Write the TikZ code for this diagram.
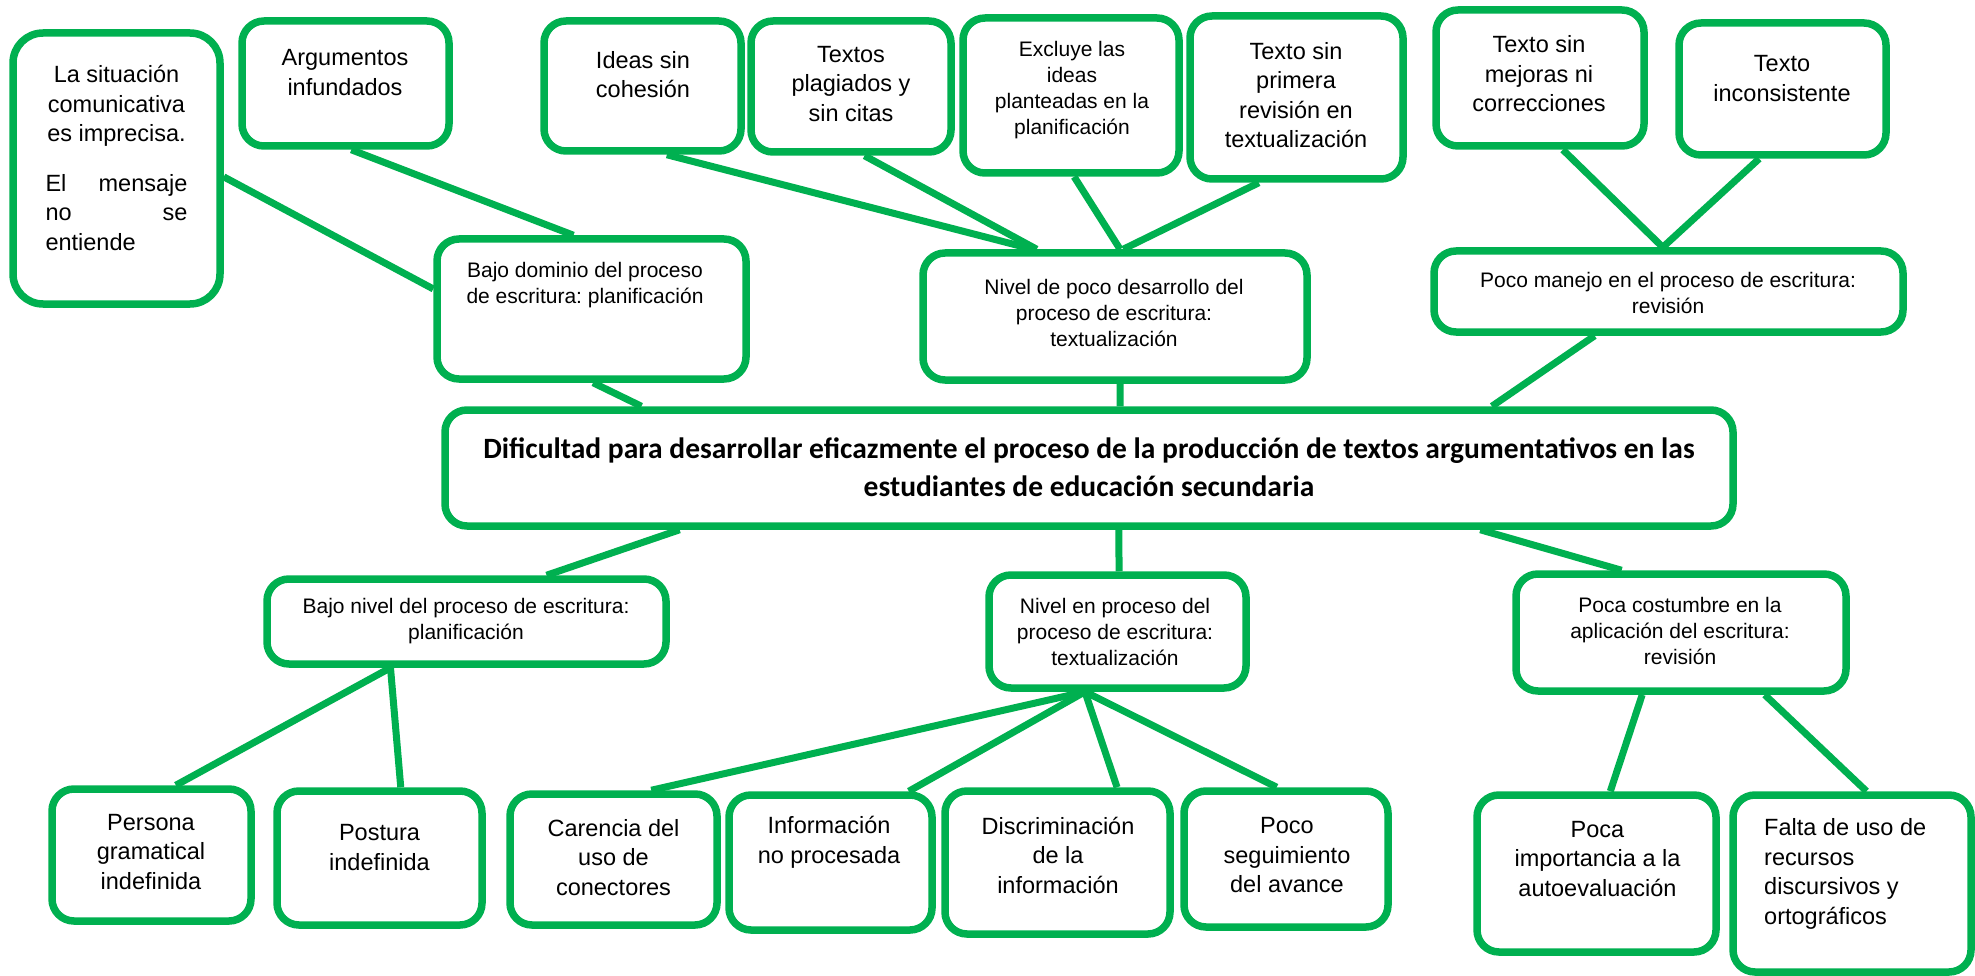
\documentclass[tikz,border=0pt]{standalone}
\usepackage{fontspec}
\setmainfont{Liberation Sans}
\newfontfamily\titlefont{Carlito}
\usetikzlibrary{calc}
\definecolor{bgreen}{HTML}{00B050}
\frenchspacing
\begin{document}
\begin{tikzpicture}[x=1pt,y=-1pt,
  box/.style={draw=bgreen, line width=7.5pt, rounded corners=22pt, fill=white, inner sep=0pt},
  big/.style={inner sep=0pt, align=center, font=\frenchspacing\fontsize{23.5}{29.5}\selectfont},
  med/.style={inner sep=0pt, align=center, font=\frenchspacing\fontsize{21}{26}\selectfont},
  link/.style={draw=bgreen, line width=7pt}]
\useasboundingbox (0,0) rectangle (1975,976);
\fill[white] (0,0) rectangle (1975,976);

% boxes
\node[box, rounded corners=30pt, minimum width=207pt, minimum height=271pt] (sit) at (116.5,168.5) {};
\node[box, minimum width=207pt, minimum height=125pt] (arg) at (345.5,83.5) {};
\node[box, minimum width=197pt, minimum height=130pt] (ide) at (642.5,86) {};
\node[box, minimum width=200pt, minimum height=131pt] (pla) at (851,86.5) {};
\node[box, minimum width=216pt, minimum height=155pt] (exc) at (1071,95.5) {};
\node[box, minimum width=213pt, minimum height=163pt] (pri) at (1296.5,97.5) {};
\node[box, minimum width=208pt, minimum height=136pt] (mej) at (1540,78) {};
\node[box, minimum width=207pt, minimum height=132pt] (inc) at (1782.5,89) {};
\node[box, minimum width=469pt, minimum height=81pt] (man) at (1668.5,291.5) {};
\node[box, minimum width=384pt, minimum height=127pt] (npd) at (1115,316.5) {};
\node[box, minimum width=309pt, minimum height=140pt] (bdo) at (591.5,309) {};
\node[box, minimum width=1288pt, minimum height=116pt] (main) at (1089,468) {};
\node[box, minimum width=399pt, minimum height=85pt] (bni) at (466.5,621.5) {};
\node[box, minimum width=257pt, minimum height=113pt] (nep) at (1117.5,631.5) {};
\node[box, minimum width=330pt, minimum height=117pt] (pco) at (1681,632.5) {};
\node[box, minimum width=199pt, minimum height=132pt] (per) at (151.5,855) {};
\node[box, minimum width=205pt, minimum height=134pt] (pos) at (379.5,858) {};
\node[box, minimum width=207pt, minimum height=131pt] (car) at (613.5,859.5) {};
\node[box, minimum width=203pt, minimum height=135pt] (inf) at (830.5,862.5) {};
\node[box, minimum width=225pt, minimum height=143pt] (dis) at (1057.5,862.5) {};
\node[box, minimum width=204pt, minimum height=136pt] (seg) at (1286,859) {};
\node[box, minimum width=239pt, minimum height=157pt] (aut) at (1596.5,873.5) {};
\node[box, minimum width=238pt, minimum height=177pt] (fal) at (1852,883.5) {};

% connectors
\draw[link] ($(sit.north east)!0.53!(sit.south east)$) -- ($(bdo.north west)!0.364!(bdo.south west)$);
\draw[link] ($(arg.south west)!0.527!(arg.south east)$) -- ($(bdo.north west)!0.443!(bdo.north east)$);
\draw[link] ($(bdo.south west)!0.505!(bdo.south east)$) -- ($(main.north west)!0.1545!(main.north east)$);
\draw[link] ($(ide.south west)!0.619!(ide.south east)$) -- ($(npd.north west)!0.29!(npd.north east)$);
\draw[link] ($(pla.south west)!0.565!(pla.south east)$) -- ($(npd.north west)!0.30!(npd.north east)$);
\draw[link] ($(exc.south west)!0.514!(exc.south east)$) -- ($(npd.north west)!0.513!(npd.north east)$);
\draw[link] ($(pri.south west)!0.329!(pri.south east)$) -- ($(npd.north west)!0.521!(npd.north east)$);
\draw[link] ($(npd.south west)!0.513!(npd.south east)$) -- ($(main.north west)!0.524!(main.north east)$);
\draw[link] ($(mej.south west)!0.606!(mej.south east)$) -- ($(man.north west)!0.488!(man.north east)$);
\draw[link] ($(inc.south west)!0.391!(inc.south east)$) -- ($(man.north west)!0.488!(man.north east)$);
\draw[link] ($(man.south west)!0.345!(man.south east)$) -- ($(main.north west)!0.811!(main.north east)$);
\draw[link] ($(main.south west)!0.184!(main.south east)$) -- ($(bni.north west)!0.697!(bni.north east)$);
\draw[link] ($(main.south west)!0.523!(main.south east)$) -- ($(nep.north west)!0.506!(nep.north east)$);
\draw[link] ($(main.south west)!0.802!(main.south east)$) -- ($(pco.north west)!0.324!(pco.north east)$);
\draw[link] ($(bni.south west)!0.313!(bni.south east)$) -- ($(per.north west)!0.618!(per.north east)$);
\draw[link] ($(bni.south west)!0.313!(bni.south east)$) -- ($(pos.north west)!0.6!(pos.north east)$);
\draw[link] ($(nep.south west)!0.377!(nep.south east)$) -- ($(car.north west)!0.676!(car.north east)$);
\draw[link] ($(nep.south west)!0.377!(nep.south east)$) -- ($(inf.north west)!0.872!(inf.north east)$);
\draw[link] ($(nep.south west)!0.377!(nep.south east)$) -- ($(dis.north west)!0.756!(dis.north east)$);
\draw[link] ($(nep.south west)!0.377!(nep.south east)$) -- ($(seg.north west)!0.456!(seg.north east)$);
\draw[link] ($(pco.south west)!0.385!(pco.south east)$) -- ($(aut.north west)!0.556!(aut.north east)$);
\draw[link] ($(pco.south west)!0.748!(pco.south east)$) -- ($(fal.north west)!0.559!(fal.north east)$);

% texts
\node[big] (sit-t) at (116.5,158) {La situación\\comunicativa\\es imprecisa.\\[20pt]\hbox to 142pt{El\hfill mensaje}\\\hbox to 142pt{no\hfill se}\\\hbox to 142pt{entiende\hfill}};
\node[big] (arg-t) at (345,72.5) {Argumentos\\infundados};
\node[big] (ide-t) at (643,74.5) {Ideas sin\\cohesión};
\node[big] (pla-t) at (851,84) {Textos\\plagiados y\\sin citas};
\node[med] (exc-t) at (1072,90) {Excluye las\\ideas\\planteadas en la\\planificación};
\node[big] (pri-t) at (1296,95) {Texto sin\\primera\\revisión en\\textualización};
\node[big] (mej-t) at (1539,74) {Texto sin\\mejoras ni\\correcciones};
\node[big] (inc-t) at (1782,78.5) {Texto\\inconsistente};
\node[med] (man-t) at (1668,293) {Poco manejo en el proceso de escritura:\\revisión};
\node[med] (npd-t) at (1114,312.7) {Nivel de poco desarrollo del\\proceso de escritura:\\textualización};
\node[med] (bdo-t) at (585,285.5) {Bajo dominio del proceso\\de escritura: planificación};
\node[inner sep=0pt, align=center, font=\frenchspacing\titlefont\bfseries\fontsize{29.5}{38}\selectfont] (main-t) at (1089,467) {Dificultad para desarrollar eficazmente el proceso de la producción de textos argumentativos en las\\estudiantes de educación secundaria};
\node[med] (bni-t) at (466,621.5) {Bajo nivel del proceso de escritura:\\planificación};
\node[med] (nep-t) at (1115,632) {Nivel en proceso del\\proceso de escritura:\\textualización};
\node[med] (pco-t) at (1680,630.7) {Poca costumbre en la\\aplicación del escritura:\\revisión};
\node[big] (per-t) at (151,851.7) {Persona\\gramatical\\indefinida};
\node[big] (pos-t) at (379.5,847.5) {Postura\\indefinida};
\node[big] (car-t) at (613.5,857.3) {Carencia del\\uso de\\conectores};
\node[big] (inf-t) at (829,842.5) {Información\\no procesada};
\node[big] (dis-t) at (1058,855.3) {Discriminación\\de la\\información};
\node[big] (seg-t) at (1287,855.3) {Poco\\seguimiento\\del avance};
\node[big] (aut-t) at (1597.5,858.8) {Poca\\importancia a la\\autoevaluación};
\node[big, align=left, anchor=west] (fal-t) at (1764,874) {Falta de uso de\\recursos\\discursivos y\\ortográficos};
\end{tikzpicture}
\end{document}
